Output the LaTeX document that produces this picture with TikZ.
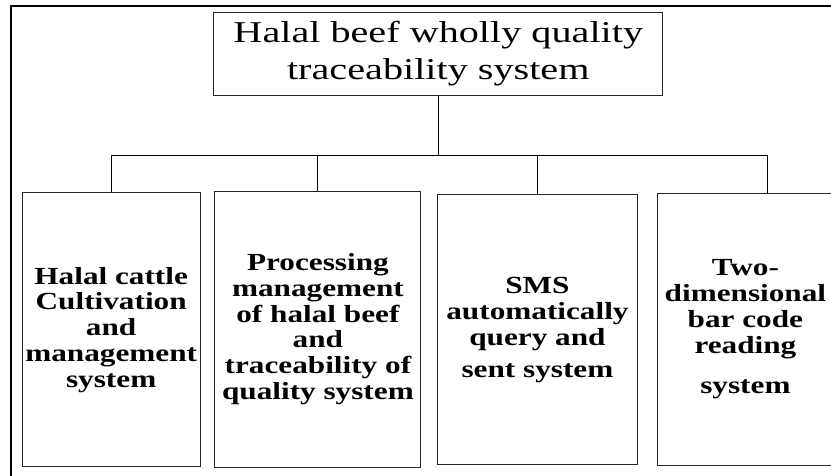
\documentclass[tikz,border=0pt]{standalone}
\usepackage{fontspec}
\setmainfont[FakeStretch=1.33]{Liberation Serif}
\newfontfamily\subfont[FakeStretch=1.27]{Liberation Serif}
\usepackage{tikz}

\begin{document}
\begin{tikzpicture}[
		topbox/.style={draw=black!85, line width=0.7pt, solid, align=center, inner sep=0pt, minimum width=11.23cm, minimum height=2.08cm, font=\fontsize{21.5}{26.3}\selectfont},
		subbox/.style={draw=black!85, line width=0.7pt, solid, align=center, inner sep=0pt, font=\subfont\fontsize{17.5}{18.4}\selectfont\bfseries},
		link/.style={draw=black, line width=0.7pt, solid}
	]
		\useasboundingbox (0.00,0.00) rectangle (20.78,11.88);
		\draw[draw=black, line width=1.2pt, solid] (0.28,-1.00) rectangle (21.50,11.73);
		\node[topbox] (halal) at (10.96,10.54) {Halal beef wholly quality\\traceability system};
		\node[subbox, minimum width=4.45cm, minimum height=6.85cm] (cattle) at (2.78,3.63) {Halal cattle\\Cultivation\\and\\management\\system};
		\node[subbox, minimum width=5.15cm, minimum height=6.90cm] (process) at (7.95,3.65) {Processing\\management\\of halal beef\\and\\traceability of\\quality system};
		\node[subbox, minimum width=4.98cm, minimum height=6.75cm] (sms) at (13.44,3.63) {SMS\\automatically\\query and\\[0.15cm]sent system};
		\node[subbox, minimum width=4.38cm, minimum height=6.80cm] (barcode) at (18.64,3.65) {Two-\\dimensional\\bar code\\reading\\[0.35cm]system};
		\coordinate (bus) at (10.96,8.00);
		\coordinate (barjoin) at (19.20,8.00);
		\draw[link] (halal.south) -- (bus);
		\draw[link] (cattle.north |- bus) -- (barjoin);
		\foreach \sub in {cattle,process,sms}
			\draw[link] (\sub.north |- bus) -- (\sub.north);
		\draw[link] (barjoin) -- (barjoin |- barcode.north);
	\end{tikzpicture}
\end{document}
